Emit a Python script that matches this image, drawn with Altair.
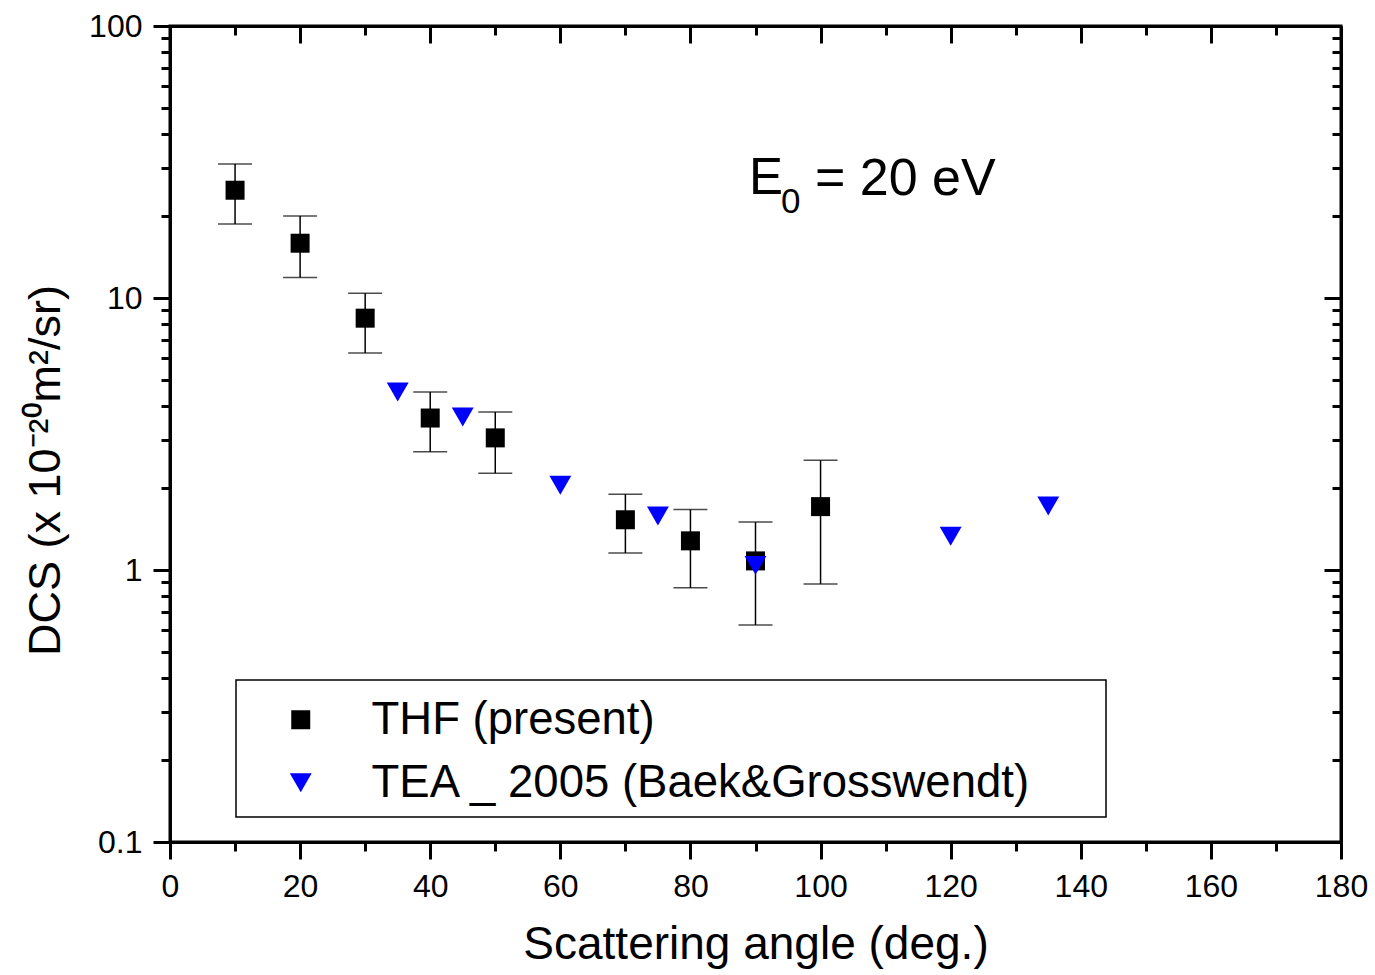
import altair as alt
import pandas as pd

# ---- data ----
series_names = ["THF (present)", "TEA _ 2005 (Baek&Grosswendt)"]

thf_angle = [10, 20, 30, 40, 50, 70, 80, 90, 100]
thf_dcs = [24.9, 15.9, 8.43, 3.62, 3.06, 1.53, 1.28, 1.08, 1.71]
thf_low = [18.7, 11.9, 6.28, 2.72, 2.27, 1.155, 0.86, 0.628, 0.889]
thf_high = [31.1, 20.0, 10.4, 4.51, 3.81, 1.90, 1.67, 1.50, 2.53]

tea_angle = [35, 45, 60, 75, 90, 120, 135]
tea_dcs = [4.51, 3.65, 2.05, 1.58, 1.04, 1.33, 1.72]

x_ticks = list(range(0, 181, 10))
y_ticks = [0.1, 0.2, 0.3, 0.4, 0.5, 0.6, 0.7, 0.8, 0.9,
           1, 2, 3, 4, 5, 6, 7, 8, 9,
           10, 20, 30, 40, 50, 60, 70, 80, 90, 100]

# annotation "E0 = 20 eV" (main letter, subscript, rest)
annotation_main = ["E"]
annotation_sub = ["0"]
annotation_rest = ["= 20 eV"]
annotation_x = [89]
annotation_y = [27.5]

x_title = "Scattering angle (deg.)"
y_title = "DCS (x 10\u207b\u00b2\u2070m\u00b2/sr)"

# ---- tables ----
points_df = pd.DataFrame({
    "angle": thf_angle + tea_angle,
    "dcs": thf_dcs + tea_dcs,
    "series": [series_names[0]] * len(thf_angle) + [series_names[1]] * len(tea_angle),
})
err_df = pd.DataFrame({"angle": thf_angle, "low": thf_low, "high": thf_high})
ann_df = pd.DataFrame({"x": annotation_x, "y": annotation_y,
                       "main": annotation_main, "sub": annotation_sub,
                       "rest": annotation_rest})

FONT = "Liberation Sans"
x_scale = alt.Scale(domain=[0, 180], nice=False, zero=False)
y_scale = alt.Scale(type="log", domain=[0.1, 100], nice=False)

y_major = "abs(log(datum.value)/LN10 - round(log(datum.value)/LN10)) < 0.001"
x_major = "datum.value % 20 == 0"

common_axis = dict(domainColor="black", domainWidth=3, tickColor="black",
                   tickWidth=3, grid=False, labelFont=FONT, titleFont=FONT,
                   labelColor="black", titleColor="black")

bottom_axis = alt.Axis(orient="bottom", values=x_ticks,
                       tickSize=alt.ExprRef(f"{x_major} ? 17 : 9"),
                       labelExpr=f"{x_major} ? datum.label : ''",
                       labelFontSize=32, labelPadding=12, labelFlush=False,
                       titleFontSize=46, titleFontWeight="normal", titlePadding=20,
                       **common_axis)
left_axis = alt.Axis(orient="left", values=y_ticks,
                     tickSize=alt.ExprRef(f"{y_major} ? 17 : 9"),
                     labelExpr=f"{y_major} ? format(datum.value, '~g') : ''",
                     labelFontSize=32, labelPadding=11, labelFlush=False,
                     titleFontSize=45, titleFontWeight="normal", titlePadding=20,
                     titleY=444,
                     **common_axis)
top_axis = alt.Axis(orient="top", values=x_ticks, labels=False, title=None,
                    tickSize=alt.ExprRef(f"{x_major} ? -17 : -9"), **common_axis)
right_axis = alt.Axis(orient="right", values=y_ticks, labels=False, title=None,
                      tickSize=alt.ExprRef(f"{y_major} ? -17 : -9"), **common_axis)

legend = alt.Legend(orient="none", legendX=66, legendY=656, title=None,
                    padding=15,
                    labelFont=FONT, labelFontSize=45.5, labelColor="black",
                    labelLimit=2000,
                    symbolSize=420, symbolStrokeWidth=0, symbolOffset=27,
                    labelOffset=48, rowPadding=16)

# legend frame (drawn behind the legend entries)
frame = alt.Chart(pd.DataFrame({"k": [0]})).mark_rect(
    fill="white", stroke="black", strokeWidth=1.5
).encode(
    x=alt.value(66), x2=alt.value(936), y=alt.value(654), y2=alt.value(791)
)

rules = alt.Chart(err_df).mark_rule(color="black", strokeWidth=1.5).encode(
    x=alt.X("angle:Q", scale=x_scale, axis=top_axis),
    y=alt.Y("low:Q", scale=y_scale, axis=right_axis),
    y2="high:Q",
)

caps = alt.Chart(err_df).transform_fold(["low", "high"], as_=["end", "v"]).mark_tick(
    orient="horizontal", size=34, thickness=1.5, color="black"
).encode(
    x=alt.X("angle:Q", scale=x_scale, axis=None),
    y=alt.Y("v:Q", scale=y_scale, axis=None),
)

points = alt.Chart(points_df).mark_point(filled=True, opacity=1, strokeWidth=0).encode(
    x=alt.X("angle:Q", scale=x_scale, axis=bottom_axis, title=x_title),
    y=alt.Y("dcs:Q", scale=y_scale, axis=left_axis, title=y_title),
    shape=alt.Shape("series:N", scale=alt.Scale(domain=series_names, range=["square", "triangle-down"]), legend=legend),
    color=alt.Color("series:N", scale=alt.Scale(domain=series_names, range=["#000000", "#0000ff"]), legend=legend),
    size=alt.Size("series:O", scale=alt.Scale(domain=series_names, range=[361, 480]), legend=None),
)

ann_base = alt.Chart(ann_df).encode(
    x=alt.X("x:Q", scale=x_scale, axis=None),
    y=alt.Y("y:Q", scale=y_scale, axis=None),
)
ann_main = ann_base.mark_text(font=FONT, fontSize=51, align="left", baseline="middle",
                              color="black").encode(text="main:N")
ann_sub = ann_base.mark_text(font=FONT, fontSize=35, align="left", baseline="middle",
                             color="black", dx=32, dy=23).encode(text="sub:N")
ann_rest = ann_base.mark_text(font=FONT, fontSize=52, align="left", baseline="middle",
                              color="black", dx=66).encode(text="rest:N")

chart = alt.layer(frame, rules, caps, points, ann_main, ann_sub, ann_rest).resolve_axis(
    x="independent", y="independent"
).properties(
    width=1171, height=816,
    autosize=alt.AutoSizeParams(type="none"),
    padding={"left": 170, "top": 26, "right": 34, "bottom": 133},
).configure(font=FONT).configure_view(stroke="black", strokeWidth=3)

chart.save("out.html", embed_options={"renderer": "svg", "actions": False})
